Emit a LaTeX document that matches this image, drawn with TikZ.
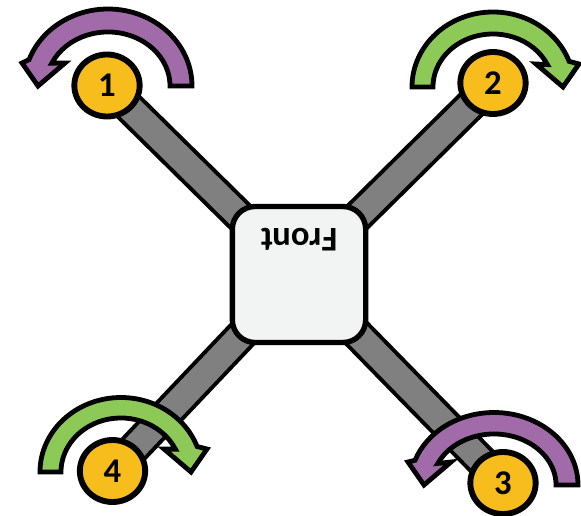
\documentclass[tikz,border=0pt]{standalone}
\usepackage{fontspec}
\setmainfont{Carlito}
\usetikzlibrary{shapes.geometric,backgrounds}
\definecolor{purp}{HTML}{A16BAA}
\definecolor{grn}{HTML}{8CC957}
\definecolor{yel}{HTML}{F6BD1D}
\definecolor{armgray}{HTML}{808080}
\definecolor{boxfill}{HTML}{F2F3F3}
\tikzset{
  motor/.style={ellipse,draw=black,line width=4.4pt,fill=yel,minimum width=49pt,minimum height=46.5pt,inner sep=0pt,font=\fontsize{26}{26}\selectfont\bfseries},
  bodybox/.style={rectangle,draw=black,line width=4pt,fill=boxfill,rounded corners=17pt,minimum width=100pt,minimum height=102pt,inner sep=0pt},
  label/.style={font=\fontsize{26}{26}\selectfont\bfseries,rotate=180,inner sep=0pt},
  armout/.style={line width=25pt,draw=black},
  armin/.style={line width=19pt,draw=armgray},
  rotarrow/.style={draw=black,line width=3.6pt,line join=miter,miter limit=10}
}
% centre x, centre y, colour, xscale, outer rx, outer ry, inner rx, inner ry
\newcommand{\rotarr}[8]{%
  \path[rotarrow,fill=#3,shift={(#1,#2)},xscale=#4]
    (#5,0) arc[start angle=0,end angle=160,x radius=#5*0.75pt,y radius=#6*0.75pt]
    -- (-86,23) -- (-70,0) -- (-43,23)
    -- ({-0.906*#7},{0.423*#8}) arc[start angle=155,end angle=0,x radius=#7*0.75pt,y radius=#8*0.75pt]
    -- cycle;
}
\begin{document}
\begin{tikzpicture}[x=0.75pt,y=0.75pt]
\useasboundingbox (0,0) rectangle (581,515);
\node[bodybox] (body) at (299,240.5) {};
\node[label] (front) at (299,275) {Front};
\node[motor] (m1) at (107,429.5) {1};
\node[motor] (m2) at (493,432) {2};
\node[motor] (m3) at (503,32) {3};
\node[motor] (m4) at (112.5,44) {4};
\begin{pgfonlayer}{background}
  \foreach \m in {m1,m2,m3,m4} {
    \draw[armout] (\m.center) -- (body.center);
    \draw[armin] (\m.center) -- (body.center);
  }
\end{pgfonlayer}
\rotarr{108}{429}{purp}{1}{84}{77}{62}{54}
\rotarr{493}{428}{grn}{-1}{81}{75}{60}{53}
\rotarr{121}{43}{grn}{-1}{81}{74.5}{60}{54}
\rotarr{494}{30}{purp}{1}{84}{72.5}{62}{51}
\end{tikzpicture}
\end{document}
